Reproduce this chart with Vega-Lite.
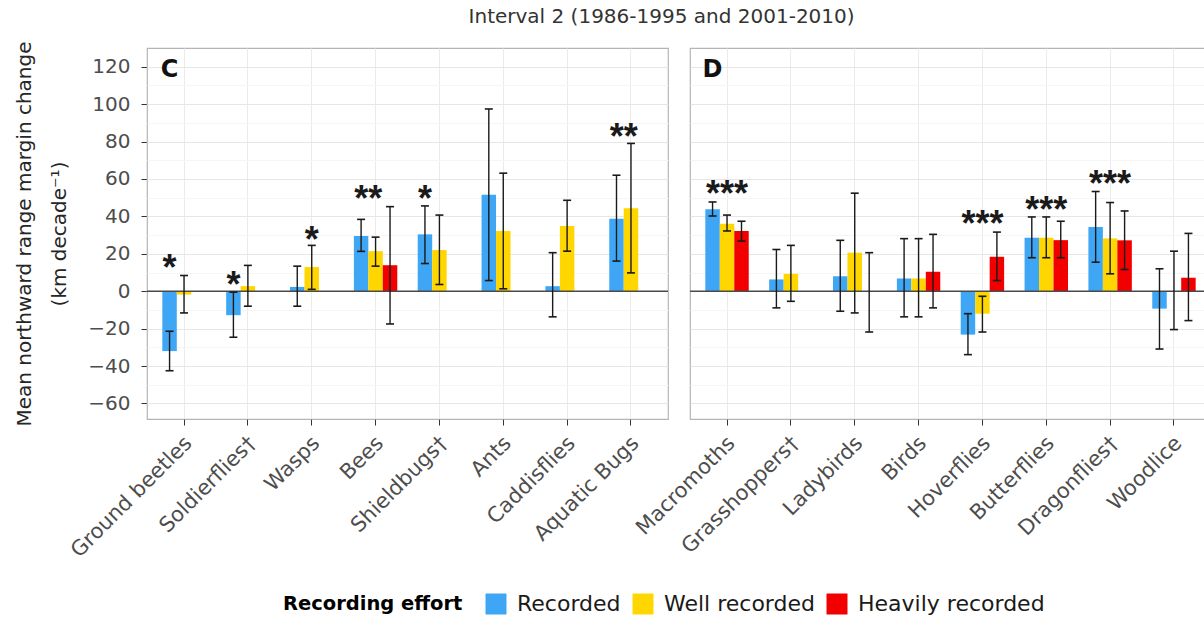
{
  "$schema": "https://vega.github.io/schema/vega-lite/v6.json",
  "padding": {"left": 14, "top": 6, "right": 0, "bottom": 0},
  "background": "white",
  "bounds": "flush",
  "title": {"text": "Interval 2 (1986-1995 and 2001-2010)", "fontSize": 20, "fontWeight": "normal", "font": "DejaVu Sans", "color": "#333333", "anchor": "middle", "offset": 14, "dx": 48},
  "data": {"values": [
    {"kind": "bar", "panel": "C", "cat": "Ground beetles", "effort": "Recorded", "v": -32.0, "lo": -42.5, "hi": -21.4},
    {"kind": "bar", "panel": "C", "cat": "Ground beetles", "effort": "Well recorded", "v": -1.8, "lo": -11.6, "hi": 8.4},
    {"kind": "bar", "panel": "C", "cat": "Soldierflies†", "effort": "Recorded", "v": -12.8, "lo": -24.6, "hi": -0.5},
    {"kind": "bar", "panel": "C", "cat": "Soldierflies†", "effort": "Well recorded", "v": 2.7, "lo": -8.0, "hi": 13.8},
    {"kind": "bar", "panel": "C", "cat": "Wasps", "effort": "Recorded", "v": 2.3, "lo": -8.0, "hi": 13.4},
    {"kind": "bar", "panel": "C", "cat": "Wasps", "effort": "Well recorded", "v": 12.9, "lo": 1.0, "hi": 24.5},
    {"kind": "bar", "panel": "C", "cat": "Bees", "effort": "Recorded", "v": 29.5, "lo": 21.3, "hi": 38.4},
    {"kind": "bar", "panel": "C", "cat": "Bees", "effort": "Well recorded", "v": 21.4, "lo": 13.4, "hi": 28.9},
    {"kind": "bar", "panel": "C", "cat": "Bees", "effort": "Heavily recorded", "v": 13.9, "lo": -17.5, "hi": 45.2},
    {"kind": "bar", "panel": "C", "cat": "Shieldbugs†", "effort": "Recorded", "v": 30.4, "lo": 14.8, "hi": 45.6},
    {"kind": "bar", "panel": "C", "cat": "Shieldbugs†", "effort": "Well recorded", "v": 22.0, "lo": 3.6, "hi": 40.7},
    {"kind": "bar", "panel": "C", "cat": "Ants", "effort": "Recorded", "v": 51.5, "lo": 5.7, "hi": 97.4},
    {"kind": "bar", "panel": "C", "cat": "Ants", "effort": "Well recorded", "v": 32.2, "lo": 1.3, "hi": 63.1},
    {"kind": "bar", "panel": "C", "cat": "Caddisflies", "effort": "Recorded", "v": 2.7, "lo": -13.7, "hi": 20.6},
    {"kind": "bar", "panel": "C", "cat": "Caddisflies", "effort": "Well recorded", "v": 34.8, "lo": 21.4, "hi": 48.6},
    {"kind": "bar", "panel": "C", "cat": "Aquatic Bugs", "effort": "Recorded", "v": 38.8, "lo": 16.1, "hi": 62.0},
    {"kind": "bar", "panel": "C", "cat": "Aquatic Bugs", "effort": "Well recorded", "v": 44.3, "lo": 9.8, "hi": 79.0},
    {"kind": "bar", "panel": "D", "cat": "Macromoths", "effort": "Recorded", "v": 43.8, "lo": 40.2, "hi": 47.7},
    {"kind": "bar", "panel": "D", "cat": "Macromoths", "effort": "Well recorded", "v": 36.1, "lo": 32.2, "hi": 40.7},
    {"kind": "bar", "panel": "D", "cat": "Macromoths", "effort": "Heavily recorded", "v": 32.2, "lo": 26.8, "hi": 37.4},
    {"kind": "bar", "panel": "D", "cat": "Grasshoppers†", "effort": "Recorded", "v": 6.3, "lo": -8.9, "hi": 22.3},
    {"kind": "bar", "panel": "D", "cat": "Grasshoppers†", "effort": "Well recorded", "v": 9.3, "lo": -5.4, "hi": 24.5},
    {"kind": "bar", "panel": "D", "cat": "Ladybirds", "effort": "Recorded", "v": 8.0, "lo": -10.7, "hi": 27.2},
    {"kind": "bar", "panel": "D", "cat": "Ladybirds", "effort": "Well recorded", "v": 20.6, "lo": -11.6, "hi": 52.4},
    {"kind": "bar", "panel": "D", "cat": "Ladybirds", "effort": "Heavily recorded", "v": -0.3, "lo": -21.8, "hi": 20.6},
    {"kind": "bar", "panel": "D", "cat": "Birds", "effort": "Recorded", "v": 6.8, "lo": -13.7, "hi": 28.1},
    {"kind": "bar", "panel": "D", "cat": "Birds", "effort": "Well recorded", "v": 6.8, "lo": -13.7, "hi": 28.1},
    {"kind": "bar", "panel": "D", "cat": "Birds", "effort": "Heavily recorded", "v": 10.4, "lo": -8.9, "hi": 30.4},
    {"kind": "bar", "panel": "D", "cat": "Hoverflies", "effort": "Recorded", "v": -23.2, "lo": -33.9, "hi": -12.0},
    {"kind": "bar", "panel": "D", "cat": "Hoverflies", "effort": "Well recorded", "v": -12.0, "lo": -21.8, "hi": -2.7},
    {"kind": "bar", "panel": "D", "cat": "Hoverflies", "effort": "Heavily recorded", "v": 18.4, "lo": 5.7, "hi": 31.6},
    {"kind": "bar", "panel": "D", "cat": "Butterflies", "effort": "Recorded", "v": 28.6, "lo": 17.9, "hi": 39.7},
    {"kind": "bar", "panel": "D", "cat": "Butterflies", "effort": "Well recorded", "v": 28.6, "lo": 17.9, "hi": 39.7},
    {"kind": "bar", "panel": "D", "cat": "Butterflies", "effort": "Heavily recorded", "v": 27.3, "lo": 17.9, "hi": 37.4},
    {"kind": "bar", "panel": "D", "cat": "Dragonflies†", "effort": "Recorded", "v": 34.3, "lo": 15.5, "hi": 53.3},
    {"kind": "bar", "panel": "D", "cat": "Dragonflies†", "effort": "Well recorded", "v": 28.2, "lo": 9.3, "hi": 47.4},
    {"kind": "bar", "panel": "D", "cat": "Dragonflies†", "effort": "Heavily recorded", "v": 27.2, "lo": 11.6, "hi": 42.9},
    {"kind": "bar", "panel": "D", "cat": "Woodlice", "effort": "Recorded", "v": -9.3, "lo": -30.9, "hi": 12.0},
    {"kind": "bar", "panel": "D", "cat": "Woodlice", "effort": "Well recorded", "v": -0.3, "lo": -20.5, "hi": 21.4},
    {"kind": "bar", "panel": "D", "cat": "Woodlice", "effort": "Heavily recorded", "v": 7.2, "lo": -15.7, "hi": 30.9},
    {"kind": "star", "panel": "C", "cat": "Ground beetles", "slot": "Recorded", "v": 16.8, "label": "*"},
    {"kind": "star", "panel": "C", "cat": "Soldierflies†", "slot": "Recorded", "v": 7.8, "label": "*"},
    {"kind": "star", "panel": "C", "cat": "Wasps", "slot": "Well recorded", "v": 31.8, "label": "*"},
    {"kind": "star", "panel": "C", "cat": "Bees", "slot": "Recorded/Well", "v": 53.4, "label": "**"},
    {"kind": "star", "panel": "C", "cat": "Shieldbugs†", "slot": "Recorded", "v": 53.4, "label": "*"},
    {"kind": "star", "panel": "C", "cat": "Aquatic Bugs", "slot": "Recorded/Well", "v": 86.7, "label": "**"},
    {"kind": "star", "panel": "D", "cat": "Macromoths", "slot": "Well recorded", "v": 56.0, "label": "***"},
    {"kind": "star", "panel": "D", "cat": "Hoverflies", "slot": "Well recorded", "v": 40.4, "label": "***"},
    {"kind": "star", "panel": "D", "cat": "Butterflies", "slot": "Well recorded", "v": 47.7, "label": "***"},
    {"kind": "star", "panel": "D", "cat": "Dragonflies†", "slot": "Well recorded", "v": 61.4, "label": "***"},
    {"kind": "letter", "panel": "C", "cat": "Ground beetles", "slot": "Recorded", "v": 118.5, "label": "C"},
    {"kind": "letter", "panel": "D", "cat": "Macromoths", "slot": "Recorded", "v": 118.5, "label": "D"}
  ]},
  "facet": {"column": {"field": "panel", "type": "nominal", "title": null, "header": {"labels": false}}},
  "spacing": 22,
  "resolve": {"scale": {"x": "independent"}},
  "spec": {
    "width": 521,
    "height": 371,
    "resolve": {"scale": {"xOffset": "independent"}},
    "encoding": {
      "x": {
        "field": "cat", "type": "nominal",
        "sort": ["Ground beetles", "Soldierflies†", "Wasps", "Bees", "Shieldbugs†", "Ants", "Caddisflies", "Aquatic Bugs", "Macromoths", "Grasshoppers†", "Ladybirds", "Birds", "Hoverflies", "Butterflies", "Dragonflies†", "Woodlice"],
        "scale": {"paddingInner": 0.32, "paddingOuter": 0.24},
        "axis": {"title": null, "labelAngle": -45, "labelAlign": "right", "labelBaseline": "top", "labelPadding": 7, "labelOffset": -3, "grid": true, "gridColor": "#ebebeb", "tickSize": 6, "tickColor": "#333333", "domain": false, "labelFontSize": 21, "labelColor": "#4d4d4d", "labelFont": "DejaVu Sans", "labelLimit": 300}
      },
      "y": {
        "field": "v", "type": "quantitative",
        "scale": {"domain": [-68.3, 130], "nice": false, "zero": false},
        "title": ["Mean northward range margin change", "(km decade⁻¹)"],
        "axis": {
          "values": [-60, -50, -40, -30, -20, -10, 0, 10, 20, 30, 40, 50, 60, 70, 80, 90, 100, 110, 120],
          "labelExpr": "datum.value % 20 === 0 ? datum.label : ''",
          "tickOpacity": {"condition": {"test": "datum.value % 20 !== 0", "value": 0}, "value": 1},
          "gridColor": {"condition": {"test": "datum.value % 20 !== 0", "value": "#f5f5f5"}, "value": "#e6e6e6"},
          "grid": true, "domain": false, "tickSize": 6, "tickColor": "#333333",
          "labelPadding": 11, "labelFontSize": 20, "labelColor": "#4d4d4d", "labelFont": "DejaVu Sans",
          "titleFont": "DejaVu Sans", "titleFontSize": 20, "titleFontWeight": "normal", "titleColor": "#262626",
          "titlePadding": 18, "titleLineHeight": 35
        }
      }
    },
    "layer": [
      {
        "transform": [{"filter": "datum.kind === 'bar'"}],
        "mark": {"type": "bar"},
        "encoding": {
          "xOffset": {"field": "effort", "type": "nominal", "scale": {"domain": ["Recorded", "Well recorded", "Heavily recorded"], "paddingInner": 0, "paddingOuter": 0}},
          "color": {
            "field": "effort", "type": "nominal",
            "scale": {"domain": ["Recorded", "Well recorded", "Heavily recorded"], "range": ["#3fa6f5", "#ffd600", "#f20000"]},
            "legend": {
              "orient": "none", "direction": "horizontal", "legendX": 136, "legendY": 545,
              "title": "Recording effort", "titleOrient": "left", "titleFontWeight": "bold", "titleFontSize": 19.5, "titleFont": "DejaVu Sans", "titleColor": "#000000", "titlePadding": 22, "titleBaseline": "middle",
              "labelFontSize": 22, "labelFont": "DejaVu Sans", "labelColor": "#1a1a1a", "labelOffset": 10, "labelLimit": 400,
              "symbolType": "square", "symbolSize": 441, "symbolStrokeWidth": 0, "symbolOpacity": 1, "columnPadding": 11
            }
          }
        }
      },
      {
        "transform": [{"filter": "datum.kind === 'letter'"}],
        "mark": {"type": "rule", "color": "#4a4a4a", "strokeWidth": 1.5},
        "encoding": {"y": {"datum": 0}, "x": null}
      },
      {
        "transform": [{"filter": "datum.kind === 'bar'"}],
        "mark": {"type": "rule", "color": "#1a1a1a", "strokeWidth": 1.4},
        "encoding": {
          "xOffset": {"field": "effort", "type": "nominal", "scale": {"domain": ["Recorded", "Well recorded", "Heavily recorded"], "paddingInner": 0, "paddingOuter": 0}},
          "y": {"field": "lo", "type": "quantitative"},
          "y2": {"field": "hi"}
        }
      },
      {
        "transform": [{"filter": "datum.kind === 'bar'"}],
        "mark": {"type": "tick", "orient": "horizontal", "size": 8, "thickness": 1.6, "color": "#1a1a1a", "opacity": 1},
        "encoding": {
          "xOffset": {"field": "effort", "type": "nominal", "scale": {"domain": ["Recorded", "Well recorded", "Heavily recorded"], "paddingInner": 0, "paddingOuter": 0}},
          "y": {"field": "lo", "type": "quantitative"}
        }
      },
      {
        "transform": [{"filter": "datum.kind === 'bar'"}],
        "mark": {"type": "tick", "orient": "horizontal", "size": 8, "thickness": 1.6, "color": "#1a1a1a", "opacity": 1},
        "encoding": {
          "xOffset": {"field": "effort", "type": "nominal", "scale": {"domain": ["Recorded", "Well recorded", "Heavily recorded"], "paddingInner": 0, "paddingOuter": 0}},
          "y": {"field": "hi", "type": "quantitative"}
        }
      },
      {
        "transform": [{"filter": "datum.kind === 'star'"}],
        "mark": {"type": "text", "font": "Liberation Sans", "fontWeight": "bold", "fontSize": 36, "baseline": "alphabetic", "align": "center", "dy": 20, "color": "#1a1a1a"},
        "encoding": {
          "xOffset": {"field": "slot", "type": "nominal", "scale": {"type": "point", "domain": ["Recorded", "Recorded/Well", "Well recorded", "Well/Heavily", "Heavily recorded"], "padding": 1}},
          "text": {"field": "label"}
        }
      },
      {
        "transform": [{"filter": "datum.kind === 'letter'"}],
        "mark": {"type": "text", "font": "DejaVu Sans", "fontWeight": "bold", "fontSize": 24, "baseline": "middle", "align": "center", "color": "#111111"},
        "encoding": {
          "xOffset": {"field": "slot", "type": "nominal", "scale": {"type": "point", "domain": ["Recorded", "Recorded/Well", "Well recorded", "Well/Heavily", "Heavily recorded"], "padding": 1}},
          "text": {"field": "label"}
        }
      }
    ]
  },
  "config": {
    "font": "DejaVu Sans",
    "view": {"stroke": "#b5b5b5", "strokeWidth": 1.2},
    "axis": {"domain": false}
  }
}
